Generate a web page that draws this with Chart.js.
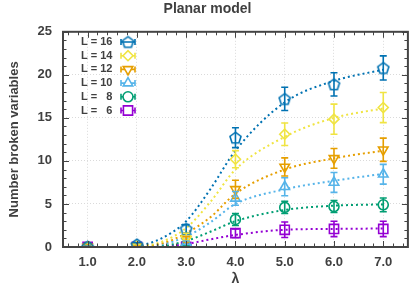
<!DOCTYPE html>
<html>
<head>
<meta charset="utf-8">
<script src="https://cdn.jsdelivr.net/npm/chart.js@4.4.1/dist/chart.umd.min.js"></script>
<style>
    html, body { margin: 0; padding: 0; background: #fff; }
</style>
</head>
<body>
<canvas id="main-chart" width="416" height="290"></canvas>
<script>
// ==================== DATOS ====================
const lambdas = [1, 2, 3, 4, 5, 6, 7];
const xTicks = [1, 2, 3, 4, 5, 6, 7];
const yTicks = [0, 5, 10, 15, 20, 25];
const seriesLabels = ['L = 16', 'L = 14', 'L = 12', 'L = 10', 'L =   8', 'L =   6'];

const L16 = [0, 0.3, 2.1, 12.7, 17.2, 18.9, 20.8];
const L14 = [0, 0.1, 1.2, 10.2, 13.1, 14.85, 16.2];
const L12 = [0, 0.05, 0.9, 6.7, 9.3, 10.3, 11.3];
const L10 = [0, 0, 0.5, 5.65, 7.0, 7.5, 8.45];
const L8  = [0, 0, 0, 3.2, 4.6, 4.7, 4.9];
const L6  = [0, 0, 0, 1.6, 2.0, 2.1, 2.1];

const err16 = [0.1, 0.2, 0.5, 1.15, 1.35, 1.35, 1.4];
const err14 = [0.05, 0.1, 0.4, 1.0, 1.3, 1.75, 1.75];
const err12 = [0, 0.05, 0.3, 1.05, 1.05, 1.15, 1.35];
const err10 = [0, 0, 0.2, 0.8, 1.05, 1.15, 1.15];
const err8  = [0, 0, 0.1, 0.7, 0.7, 0.7, 0.8];
const err6  = [0, 0, 0, 0.5, 0.9, 0.9, 0.9];

// curvas de ajuste
const fitX   = [2, 2.5, 3, 3.5, 4, 5, 6, 7];
const fit16  = [0, 1.0, 3.0, 6.8, 11.2, 16.8, 19.3, 20.6];
const fit14  = [0, 0.6, 2.2, 5.3, 9.0, 12.8, 15.0, 16.1];
const fit12  = [0, 0.4, 1.6, 3.5, 6.2, 9.0, 10.3, 11.2];
const fit10  = [0, 0.3, 1.2, 2.9, 5.0, 6.7, 7.7, 8.5];
const fit8   = [0, 0.1, 0.7, 1.8, 3.0, 4.3, 4.8, 4.95];
const fit6   = [0, 0.05, 0.35, 0.9, 1.4, 2.0, 2.1, 2.15];

const colors = ['#0072b2', '#f0e442', '#e69f00', '#56b4e9', '#009e73', '#9400d3'];
const values = [L16, L14, L12, L10, L8, L6];
const errors = [err16, err14, err12, err10, err8, err6];
const fits = [fit16, fit14, fit12, fit10, fit8, fit6];

const textColor = '#404040';

// marcador pentagono
function pentagon(color) {
    const c = document.createElement('canvas');
    c.width = 15; c.height = 15;
    const g = c.getContext('2d');
    g.strokeStyle = color;
    g.lineWidth = 1.6;
    g.beginPath();
    for (let i = 0; i < 5; i++) {
        const a = -Math.PI / 2 + i * 2 * Math.PI / 5;
        const px = 7.5 + 5.8 * Math.cos(a), py = 8 + 5.8 * Math.sin(a);
        if (i === 0) g.moveTo(px, py); else g.lineTo(px, py);
    }
    g.closePath();
    g.stroke();
    return c;
}

const markers = [
    { pointStyle: pentagon(colors[0]), rotation: 0, radius: 5 },
    { pointStyle: 'rectRot', rotation: 0, radius: 5 },
    { pointStyle: 'triangle', rotation: 180, radius: 5.5 },
    { pointStyle: 'triangle', rotation: 0, radius: 5.5 },
    { pointStyle: 'circle', rotation: 0, radius: 5 },
    { pointStyle: 'rect', rotation: 0, radius: 6.5 }
];

const datasets = [];
values.forEach((vals, i) => {
    datasets.push({
        label: seriesLabels[i],
        data: lambdas.map((x, j) => ({ x: x, y: vals[j] })),
        showLine: false,
        borderColor: colors[i],
        backgroundColor: 'rgba(0,0,0,0)',
        pointStyle: markers[i].pointStyle,
        rotation: markers[i].rotation,
        pointRadius: markers[i].radius,
        pointBorderWidth: 1.6,
        order: i
    });
});
fits.forEach((vals, i) => {
    datasets.push({
        label: 'fit ' + seriesLabels[i],
        data: fitX.map((x, j) => ({ x: x, y: vals[j] })),
        showLine: true,
        borderColor: colors[i],
        borderWidth: 2,
        borderDash: [2, 3],
        pointRadius: 0,
        cubicInterpolationMode: 'monotone',
        fill: false,
        order: 10 + i
    });
});

// ==================== PLUGINS ====================
const errorBarsPlugin = {
    id: 'errorBars',
    afterDatasetsDraw(chart) {
        const ctx = chart.ctx;
        const xs = chart.scales.x, ys = chart.scales.y;
        ctx.save();
        ctx.lineWidth = 1.6;
        values.forEach((vals, i) => {
            ctx.strokeStyle = colors[i];
            vals.forEach((v, j) => {
                const e = errors[i][j];
                if (!e) return;
                const px = xs.getPixelForValue(lambdas[j]);
                const y1 = ys.getPixelForValue(v + e);
                const y2 = ys.getPixelForValue(Math.max(0, v - e));
                ctx.beginPath();
                ctx.moveTo(px, y1); ctx.lineTo(px, y2);
                ctx.moveTo(px - 3.5, y1); ctx.lineTo(px + 3.5, y1);
                ctx.moveTo(px - 3.5, y2); ctx.lineTo(px + 3.5, y2);
                ctx.stroke();
            });
        });
        ctx.restore();
    }
};

const framePlugin = {
    id: 'frame',
    afterDraw(chart) {
        const ctx = chart.ctx;
        const a = chart.chartArea;
        const xs = chart.scales.x, ys = chart.scales.y;
        ctx.save();
        ctx.strokeStyle = '#444';
        ctx.lineWidth = 1;
        // marcas menores y mayores
        ctx.beginPath();
        for (let v = 0; v <= 25; v += 1) {
            const py = Math.round(ys.getPixelForValue(v)) + 0.5;
            const len = v % 5 === 0 ? 6 : 3.5;
            ctx.moveTo(a.left, py); ctx.lineTo(a.left + len, py);
            ctx.moveTo(a.right, py); ctx.lineTo(a.right - len, py);
        }
        for (let k = 3; k <= 37; k++) {
            const v = k * 0.2;
            const px = Math.round(xs.getPixelForValue(v)) + 0.5;
            const len = k % 5 === 0 ? 6 : 3.5;
            ctx.moveTo(px, a.bottom); ctx.lineTo(px, a.bottom - len);
            ctx.moveTo(px, a.top); ctx.lineTo(px, a.top + len);
        }
        ctx.stroke();
        ctx.lineWidth = 2;
        ctx.strokeRect(a.left, a.top, a.right - a.left, a.bottom - a.top);
        ctx.restore();
    }
};

const keyPlugin = {
    id: 'key',
    afterDraw(chart) {
        const ctx = chart.ctx;
        ctx.save();
        ctx.font = 'bold 11px "Liberation Sans", Arial, sans-serif';
        ctx.textBaseline = 'middle';
        ctx.textAlign = 'left';
        seriesLabels.forEach((lab, i) => {
            const y = 42 + i * 13.7;
            ctx.fillStyle = textColor;
            ctx.fillText(lab, 81, y);
            const cx = 128;
            ctx.strokeStyle = colors[i];
            ctx.lineWidth = 1.6;
            ctx.beginPath();
            ctx.moveTo(cx - 7, y); ctx.lineTo(cx + 7, y);
            ctx.moveTo(cx - 7, y - 3); ctx.lineTo(cx - 7, y + 3);
            ctx.moveTo(cx + 7, y - 3); ctx.lineTo(cx + 7, y + 3);
            ctx.stroke();
            ctx.fillStyle = '#fff';
            Chart.helpers.drawPoint(ctx, {
                pointStyle: markers[i].pointStyle,
                rotation: markers[i].rotation,
                radius: markers[i].radius,
                borderWidth: 1.6
            }, cx, y);
        });
        ctx.restore();
    }
};

// ==================== GRAFICO ====================
const font = (size) => ({ family: '"Liberation Sans", Arial, sans-serif', size: size, weight: 'bold' });

const mainChart = new Chart(document.getElementById('main-chart'), {
    type: 'scatter',
    data: { datasets: datasets },
    options: {
        responsive: false,
        animation: false,
        devicePixelRatio: 1,
        layout: { padding: { left: 0, right: 1, top: 0, bottom: 0 } },
        plugins: {
            legend: { display: false },
            tooltip: { enabled: false },
            title: {
                display: true,
                text: 'Planar model',
                color: textColor,
                font: font(14),
                padding: { top: 1, bottom: 14 }
            }
        },
        scales: {
            x: {
                type: 'linear',
                min: 0.5,
                max: 7.5,
                afterBuildTicks: (s) => { s.ticks = xTicks.map(v => ({ value: v })); },
                afterFit: (s) => { s.height = 43; },
                grid: { color: '#dadada', lineWidth: 1, drawTicks: false },
                border: { display: false, dash: [1, 2] },
                ticks: {
                    color: textColor,
                    font: font(13),
                    padding: 8,
                    maxRotation: 0,
                    callback: (v) => v.toFixed(1)
                },
                title: {
                    display: true,
                    text: 'λ',
                    color: textColor,
                    font: font(14),
                    padding: { top: 0, bottom: 2 }
                }
            },
            y: {
                type: 'linear',
                min: 0,
                max: 25,
                afterBuildTicks: (s) => { s.ticks = yTicks.map(v => ({ value: v })); },
                afterFit: (s) => { s.width = 63; },
                grid: { color: '#dadada', lineWidth: 1, drawTicks: false },
                border: { display: false, dash: [1, 2] },
                ticks: {
                    color: textColor,
                    font: font(13),
                    padding: 11
                },
                title: {
                    display: true,
                    text: 'Number broken variables',
                    color: textColor,
                    font: font(13),
                    padding: { top: 7, bottom: 0 }
                }
            }
        }
    },
    plugins: [errorBarsPlugin, framePlugin, keyPlugin]
});
</script>
</body>
</html>
